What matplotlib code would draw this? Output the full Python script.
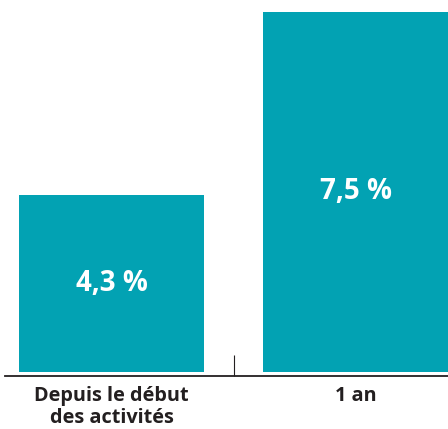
import matplotlib
matplotlib.use("Agg")
import matplotlib.pyplot as plt

categories = ["Depuis le début\ndes activités", "1 an"]
values = [4.3, 7.5]
value_labels = ["4,3 %", "7,5 %"]

teal = "#02a2b3"
dark = "#231f20"
base = 1.213  # bars don't start at zero in the original

plt.rcParams["font.family"] = ["Open Sans", "DejaVu Sans"]

fig = plt.figure(figsize=(4.48, 4.29), dpi=100)
ax = fig.add_axes([5 / 448, 53 / 429, 443 / 448, 376 / 429])

x = list(range(len(categories)))
heights = [v - base for v in values]
ax.bar(x, heights, bottom=base, width=0.758, color=teal, zorder=2)

for xi, v, lab in zip(x, values, value_labels):
    ax.text(xi, (base + v) / 2, lab, ha="center", va="center",
            color="white", fontsize=20, fontweight="bold", fontstyle="normal")

ax.set_xlim(-0.4365, 1.379)
ax.set_ylim(1.135, 7.71)

ax.set_xticks(x)
ax.set_xticklabels(categories, fontsize=14.3, fontweight="bold", color=dark,
                   linespacing=1.17)
ax.tick_params(axis="x", which="major", length=0, pad=7)
ax.set_xticks([0.5], minor=True)
ax.tick_params(axis="x", which="minor", direction="in", length=15,
               width=0.8, color=dark)
ax.set_yticks([])

for side in ["top", "right", "left"]:
    ax.spines[side].set_visible(False)
ax.spines["bottom"].set_linewidth(1.3)
ax.spines["bottom"].set_color(dark)

fig.savefig("out.png", dpi=100)
